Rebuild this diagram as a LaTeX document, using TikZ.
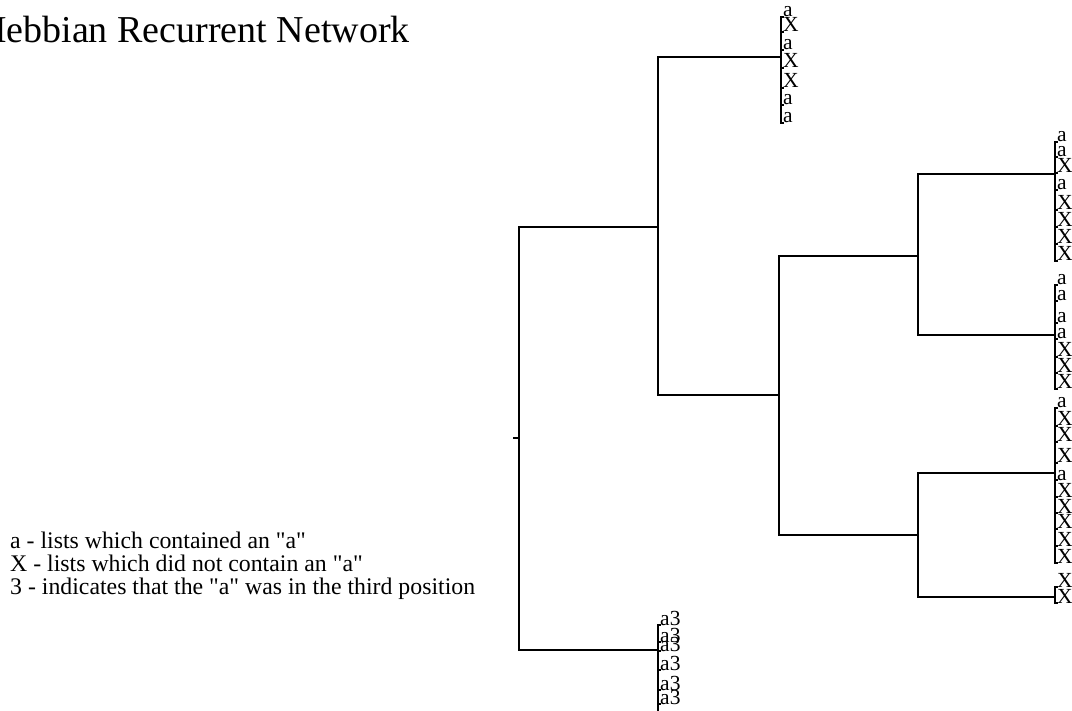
\documentclass[tikz,border=0pt]{standalone}
\usepackage{fontspec}
\setmainfont{Liberation Serif}[Ligatures=TeXOff]
\begin{document}
\begin{tikzpicture}[x=1pt,y=-1pt,
  edge/.style={line width=1.3pt, line cap=rect},
  leaf/.style={anchor=base west, inner sep=0pt, font=\fontsize{21.5}{21.5}\selectfont},
  legend/.style={anchor=base west, inner sep=0pt, font=\fontsize{23.8}{23.8}\selectfont},
  title/.style={anchor=base west, inner sep=0pt, font=\fontsize{38}{38}\selectfont}]
\path[use as bounding box, fill=white] (0,0) rectangle (1072,711);

% title and legend
\node[title] (ttl) at (-21,43) {Hebbian Recurrent Network};
\node[legend] (lg1) at (10,548) {a - lists which contained an "a"};
\node[legend] (lg2) at (10,571) {X - lists which did not contain an "a"};
\node[legend] (lg3) at (10,594) {3 - indicates that the "a" was in the third position};

% internal nodes
\coordinate (r0) at (514,438);
\coordinate (r)  at (519,438);
\coordinate (rt) at (519,227);
\coordinate (rb) at (519,650);
\coordinate (n1) at (658,227);
\coordinate (n1t) at (658,57);
\coordinate (n1b) at (658,395);
\coordinate (n2) at (779,395);
\coordinate (n2t) at (779,256);
\coordinate (n2b) at (779,535);
\coordinate (n3) at (918,256);
\coordinate (n3t) at (918,174);
\coordinate (n3b) at (918,335);
\coordinate (n4) at (918,535);
\coordinate (n4t) at (918,473);
\coordinate (n4b) at (918,597);
\coordinate (bj) at (658,650);
\coordinate (tj) at (781,57);
\coordinate (c1j) at (1055,174);
\coordinate (c2j) at (1055,335);
\coordinate (c3j) at (1055,473);
\coordinate (c4j) at (1055,597);

\draw[edge] (r0) -- (r);
\draw[edge] (rt) -- (rb);
\draw[edge] (rt) -- (n1);
\draw[edge] (rb) -- (bj);
\draw[edge] (n1t) -- (n1b);
\draw[edge] (n1t) -- (tj);
\draw[edge] (n1b) -- (n2);
\draw[edge] (n2t) -- (n2b);
\draw[edge] (n2t) -- (n3);
\draw[edge] (n2b) -- (n4);
\draw[edge] (n3t) -- (n3b);
\draw[edge] (n3t) -- (c1j);
\draw[edge] (n3b) -- (c2j);
\draw[edge] (n4t) -- (n4b);
\draw[edge] (n4t) -- (c3j);
\draw[edge] (n4b) -- (c4j);

% top cluster
\foreach \lab/\y [count=\i] in {a/17,X/32,a/50,X/68,X/88,a/105,a/123}{
  \coordinate (tc\i) at (781,\y);
  \node[leaf] (tl\i) at (783,\y) {\lab};
  \draw[edge] (tc\i) -- (tl\i.base west);
}
\draw[edge] (tc1) -- (tc7);

% cluster 1
\foreach \lab/\y [count=\i] in {a/142,a/157,X/173,a/190,X/210,X/227,X/244,X/261}{
  \coordinate (ac\i) at (1055,\y);
  \node[leaf] (al\i) at (1057,\y) {\lab};
  \draw[edge] (ac\i) -- (al\i.base west);
}
\draw[edge] (ac1) -- (ac8);

% cluster 2
\foreach \lab/\y [count=\i] in {a/285,a/301,a/323,a/339,X/357,X/373,X/389}{
  \coordinate (bc\i) at (1055,\y);
  \node[leaf] (bl\i) at (1057,\y) {\lab};
  \draw[edge] (bc\i) -- (bl\i.base west);
}
\draw[edge] (bc1) -- (bc7);

% cluster 3
\foreach \lab/\y [count=\i] in {a/408,X/426,X/442,X/463,a/480,X/497,X/513,X/529,X/546,X/563}{
  \coordinate (cc\i) at (1055,\y);
  \node[leaf] (cl\i) at (1057,\y) {\lab};
  \draw[edge] (cc\i) -- (cl\i.base west);
}
\draw[edge] (cc1) -- (cc10);

% cluster 4
\foreach \lab/\y [count=\i] in {X/587,X/603}{
  \coordinate (dc\i) at (1055,\y);
  \node[leaf] (dl\i) at (1057,\y) {\lab};
  \draw[edge] (dc\i) -- (dl\i.base west);
}
\draw[edge] (dc1) -- (dc2);

% bottom cluster
\foreach \lab/\y [count=\i] in {a3/625,a3/642,a3/651,a3/670,a3/690,a3/704}{
  \coordinate (ec\i) at (658,\y);
  \node[leaf] (el\i) at (660,\y) {\lab};
  \draw[edge] (ec\i) -- (el\i.base west);
}
\coordinate (eend) at (658,711);
\draw[edge] (ec1) -- (eend);
\end{tikzpicture}
\end{document}
